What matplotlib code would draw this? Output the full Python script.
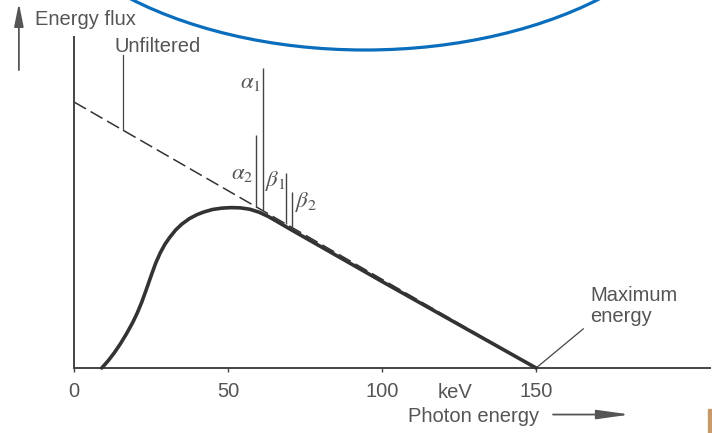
import matplotlib
matplotlib.use('Agg')
from matplotlib import pyplot as plt
from matplotlib.patches import Ellipse, Rectangle

plt.rcParams['font.family'] = ['Liberation Sans', 'DejaVu Sans']
plt.rcParams['mathtext.fontset'] = 'stix'

# photon energy (keV) and energy flux (arbitrary units)
energy_unfiltered = [0, 150]
flux_unfiltered = [100, 0]

energy_filtered = [9, 11, 13, 15, 17, 19, 20.5, 22, 23.5, 25, 26.5, 28, 29.5, 31,
                   33, 35, 37.5, 40, 42, 45, 48, 51, 54, 57, 60, 63, 66, 70, 80,
                   90, 100, 110, 120, 130, 140, 150]
flux_filtered = [0, 2.6, 5.6, 9.0, 12.8, 17.0, 20.6, 24.8, 29.6, 34.6, 39.4, 43.3,
                 46.5, 49.0, 51.9, 54.1, 56.2, 57.7, 58.6, 59.6, 60.1, 60.3, 60.2,
                 59.7, 58.6, 57.0, 55.0, 52.3, 45.7, 39.1, 32.5, 26.0, 19.5, 13.0,
                 6.5, 0]

# characteristic lines
line_energy = [59.1, 61.4, 68.8, 70.8]
line_top = [87.6, 112.8, 73.3, 66.2]
line_base = [60.5, 59.0, 54.2, 52.9]

xticks = [0, 50, 100, 150]

TEXT = '#555555'
INK = '#333333'
FS = 14.5

fig = plt.figure(figsize=(7.12, 4.33), dpi=100)
ax = fig.add_axes([0, 0, 1, 1])
ax.set_xlim(-24.03, 207.1)
ax.set_ylim(-24.44, 138.35)

for s in ['top', 'right']:
    ax.spines[s].set_visible(False)
ax.spines['left'].set_position(('data', 0))
ax.spines['bottom'].set_position(('data', 0))
ax.spines['left'].set_bounds(0, 124.4)
ax.spines['bottom'].set_bounds(0, 206.5)
for s in ['left', 'bottom']:
    ax.spines[s].set_color('#444444')
    ax.spines[s].set_linewidth(1.4)
ax.set_yticks([])
ax.set_xticks(xticks)
ax.set_xticklabels([str(t) for t in xticks])
ax.tick_params(axis='x', direction='out', length=3, width=1, color='#444444',
               labelsize=FS, labelcolor=TEXT, pad=7)
ax.patch.set_alpha(0)

# spectra
ax.plot(energy_unfiltered, flux_unfiltered, color=INK, lw=1.1, dashes=(9, 3.5),
        zorder=2)
ax.plot(energy_filtered, flux_filtered, color=INK, lw=2.6, solid_capstyle='round',
        solid_joinstyle='round', zorder=3)

ax.vlines(line_energy, line_base, line_top, color='#444444', lw=1.0, zorder=2)
GS = 16.5
ax.text(58.3, 71, r'$\alpha_2$', fontsize=GS, color=TEXT, ha='right', va='baseline')
ax.text(60.8, 105.3, r'$\alpha_1$', fontsize=GS, color=TEXT, ha='right', va='baseline')
ax.text(62.0, 68.4, r'$\beta_1$', fontsize=GS, color=TEXT, ha='left', va='baseline')
ax.text(71.6, 60.5, r'$\beta_2$', fontsize=GS, color=TEXT, ha='left', va='baseline')

# annotations
ax.text(-12.66, 128.9, 'Energy flux', fontsize=FS, color=TEXT, va='baseline')
ax.annotate('', xy=(-17.9, 137.2), xytext=(-17.9, 112),
            arrowprops=dict(arrowstyle='-|>,head_length=0.7,head_width=0.14',
                            mutation_scale=20, lw=1.3, color='#555555',
                            shrinkA=0, shrinkB=0))
ax.text(13.3, 118.9, 'Unfiltered', fontsize=FS, color=TEXT, va='baseline')
ax.plot([15.9, 15.9], [117.7, 89.4], color='#444444', lw=0.9)

ax.text(167.5, 17.3, 'Maximum\nenergy', fontsize=FS, color=TEXT, va='baseline',
        linespacing=1.15)
ax.plot([150, 165.3], [0, 14.7], color='#444444', lw=0.9)

ax.text(117.9, -11.4, 'keV', fontsize=FS, color=TEXT, va='baseline')
ax.text(108.4, -20.3, 'Photon energy', fontsize=FS, color=TEXT, va='baseline')
ax.annotate('', xy=(180.5, -17.5), xytext=(155.5, -17.5),
            arrowprops=dict(arrowstyle='-|>,head_length=1.0,head_width=0.14',
                            mutation_scale=20, lw=1.3, color='#555555',
                            shrinkA=0, shrinkB=0))

# blue highlight ring and the small edge mark of the scan
ring = Ellipse((365 / 712, 1 + 150 / 433), 2 * 351 / 712, 2 * 200 / 433,
               transform=fig.transFigure, fill=False, edgecolor='#0a6ebd', lw=2.3)
fig.patches.append(ring)
fig.patches.append(Rectangle((708 / 712, 0), 3 / 712, 24 / 433,
                             transform=fig.transFigure, color='#c89a6a'))

fig.savefig('out.png', dpi=100, facecolor='white')
